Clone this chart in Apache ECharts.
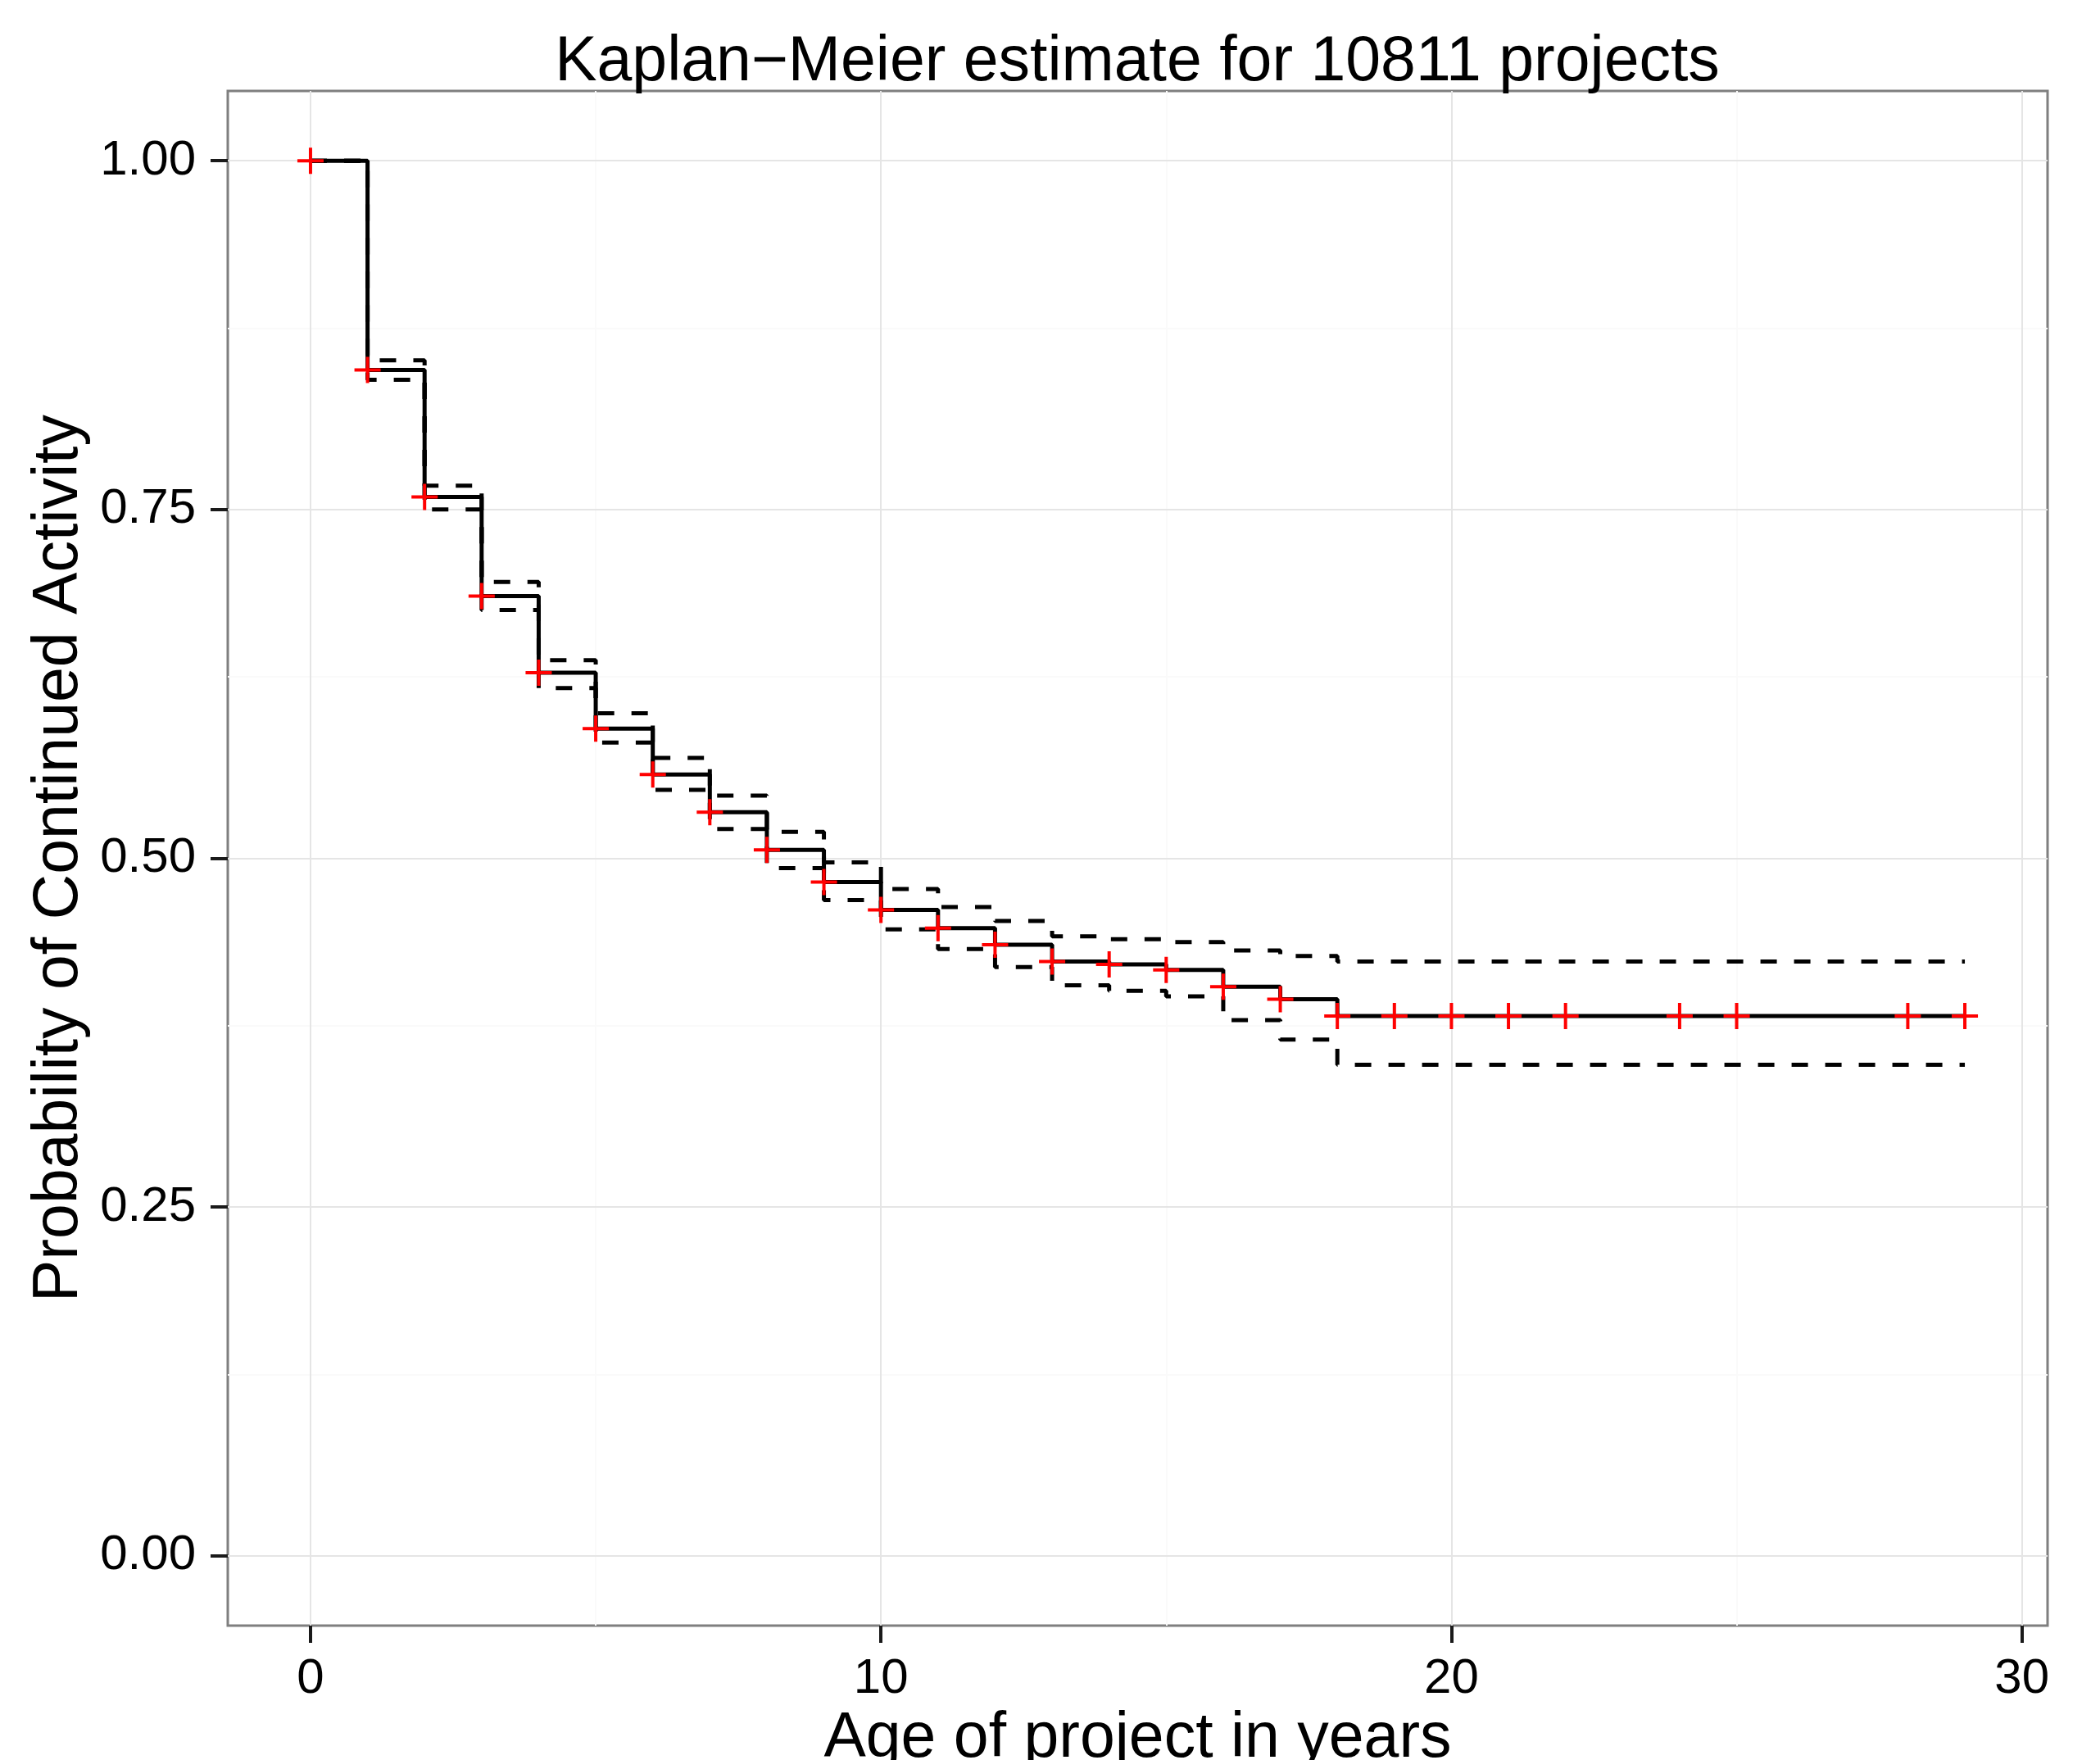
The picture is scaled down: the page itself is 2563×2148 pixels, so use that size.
<!DOCTYPE html>
<html>
<head>
<meta charset="utf-8">
<script src="https://cdn.jsdelivr.net/npm/echarts@6/dist/echarts.min.js"></script>
<style>
html, body { margin: 0; padding: 0; background: #fff; }
#main { width: 2563px; height: 2148px; }
</style>
</head>
<body>
<div id="main"></div>
<script>
// Kaplan-Meier step values
var times = [0, 1, 2, 3, 4, 5, 6, 7, 8, 9, 10, 11, 12, 13, 14, 15, 16, 17, 18, 29];
var surv  = [1.000, 0.850, 0.759, 0.688, 0.633, 0.593, 0.560, 0.533, 0.506, 0.483, 0.463, 0.450, 0.438, 0.426, 0.424, 0.420, 0.408, 0.399, 0.387, 0.387];
var upper = [1.000, 0.857, 0.767, 0.698, 0.642, 0.604, 0.572, 0.545, 0.519, 0.497, 0.478, 0.465, 0.455, 0.444, 0.442, 0.440, 0.434, 0.430, 0.426, 0.426];
var lower = [1.000, 0.843, 0.750, 0.678, 0.622, 0.583, 0.549, 0.521, 0.493, 0.470, 0.449, 0.435, 0.422, 0.409, 0.405, 0.401, 0.384, 0.370, 0.352, 0.352];
// censoring marks (red crosses)
var censorTimes = [0, 1, 2, 3, 4, 5, 6, 7, 8, 9, 10, 11, 12, 13, 14, 15, 16, 17, 18, 19, 20, 21, 22, 24, 25, 28, 29];

// tick / grid positions
var xTicks = [0, 10, 20, 30];
var xMinor = [5, 15, 25];
var yTicks = [0, 0.25, 0.5, 0.75, 1];
var yMinor = [0.125, 0.375, 0.625, 0.875];

var FONT = 'Liberation Sans, Arial, Helvetica, sans-serif';

function pairs(xs, ys) {
    return xs.map(function (x, i) { return [x, ys[i]]; });
}

// value of the step curve at time t
function survAt(t) {
    var v = surv[0];
    for (var i = 0; i < times.length; i++) {
        if (times[i] <= t) v = surv[i];
    }
    return v;
}

var gridLines = [];
xMinor.forEach(function (v) { gridLines.push({ xAxis: v, lineStyle: { color: '#FAFAFA', width: 2, type: 'solid' } }); });
yMinor.forEach(function (v) { gridLines.push({ yAxis: v, lineStyle: { color: '#FAFAFA', width: 2, type: 'solid' } }); });
xTicks.forEach(function (v) { gridLines.push({ xAxis: v, lineStyle: { color: '#E5E5E5', width: 2, type: 'solid' } }); });
yTicks.forEach(function (v) { gridLines.push({ yAxis: v, lineStyle: { color: '#E5E5E5', width: 2, type: 'solid' } }); });

var chartDom = document.getElementById('main');
var myChart = echarts.init(chartDom, null, { renderer: 'canvas' });
var option;

var ciStyle = { color: '#000', width: 5, type: [20, 21], cap: 'butt' };

option = {
    animation: false,
    backgroundColor: '#fff',
    title: {
        text: 'Kaplan\u2212Meier estimate for 10811 projects',
        left: 1388,
        top: 38,
        padding: 0,
        textAlign: 'center',
        textStyle: { fontFamily: FONT, fontSize: 77, fontWeight: 'normal', color: '#000' }
    },
    grid: {
        left: 278,
        top: 111,
        width: 2221,
        height: 1873,
        outerBoundsMode: 'none',
        containLabel: false,
        show: true,
        backgroundColor: '#fff',
        borderColor: '#7F7F7F',
        borderWidth: 3
    },
    xAxis: {
        type: 'value',
        min: -1.45,
        max: 30.45,
        name: 'Age of project in years',
        nameLocation: 'middle',
        nameGap: 93,
        nameTextStyle: { fontFamily: FONT, fontSize: 77, color: '#000' },
        axisLine: { show: false, onZero: false },
        splitLine: { show: false },
        axisTick: {
            show: true, customValues: xTicks, length: 21,
            lineStyle: { color: '#1a1a1a', width: 4 }
        },
        axisLabel: {
            customValues: xTicks, margin: 35,
            fontFamily: FONT, fontSize: 60, color: '#000'
        }
    },
    yAxis: {
        type: 'value',
        min: -0.05,
        max: 1.05,
        name: 'Probability of Continued Activity',
        nameLocation: 'middle',
        nameGap: 143,
        nameTextStyle: { fontFamily: FONT, fontSize: 77, color: '#000' },
        axisLine: { show: false, onZero: false },
        splitLine: { show: false },
        axisTick: {
            show: true, customValues: yTicks, length: 21,
            lineStyle: { color: '#1a1a1a', width: 4 }
        },
        axisLabel: {
            customValues: yTicks, margin: 39,
            fontFamily: FONT, fontSize: 60, color: '#000',
            formatter: function (v) { return v.toFixed(2); }
        }
    },
    series: [
        {
            name: 'grid',
            type: 'line',
            data: [],
            silent: true,
            markLine: {
                silent: true,
                z: 1,
                symbol: ['none', 'none'],
                label: { show: false },
                emphasis: { disabled: true },
                data: gridLines
            }
        },
        {
            name: 'upper',
            type: 'line',
            step: 'end',
            showSymbol: false,
            silent: true,
            z: 3,
            lineStyle: ciStyle,
            data: pairs(times, upper)
        },
        {
            name: 'lower',
            type: 'line',
            step: 'end',
            showSymbol: false,
            silent: true,
            z: 3,
            lineStyle: ciStyle,
            data: pairs(times, lower)
        },
        {
            name: 'survival',
            type: 'line',
            step: 'end',
            showSymbol: false,
            silent: true,
            z: 4,
            lineStyle: { color: '#000', width: 5 },
            data: pairs(times, surv)
        },
        {
            name: 'censored',
            type: 'scatter',
            silent: true,
            z: 5,
            symbol: 'path://M-2,-16 L2,-16 L2,-2 L16,-2 L16,2 L2,2 L2,16 L-2,16 L-2,2 L-16,2 L-16,-2 L-2,-2 Z',
            symbolSize: 32,
            itemStyle: { color: '#FF0000', opacity: 1 },
            data: censorTimes.map(function (t) { return [t, survAt(t)]; })
        }
    ]
};

option && myChart.setOption(option);
</script>
</body>
</html>
